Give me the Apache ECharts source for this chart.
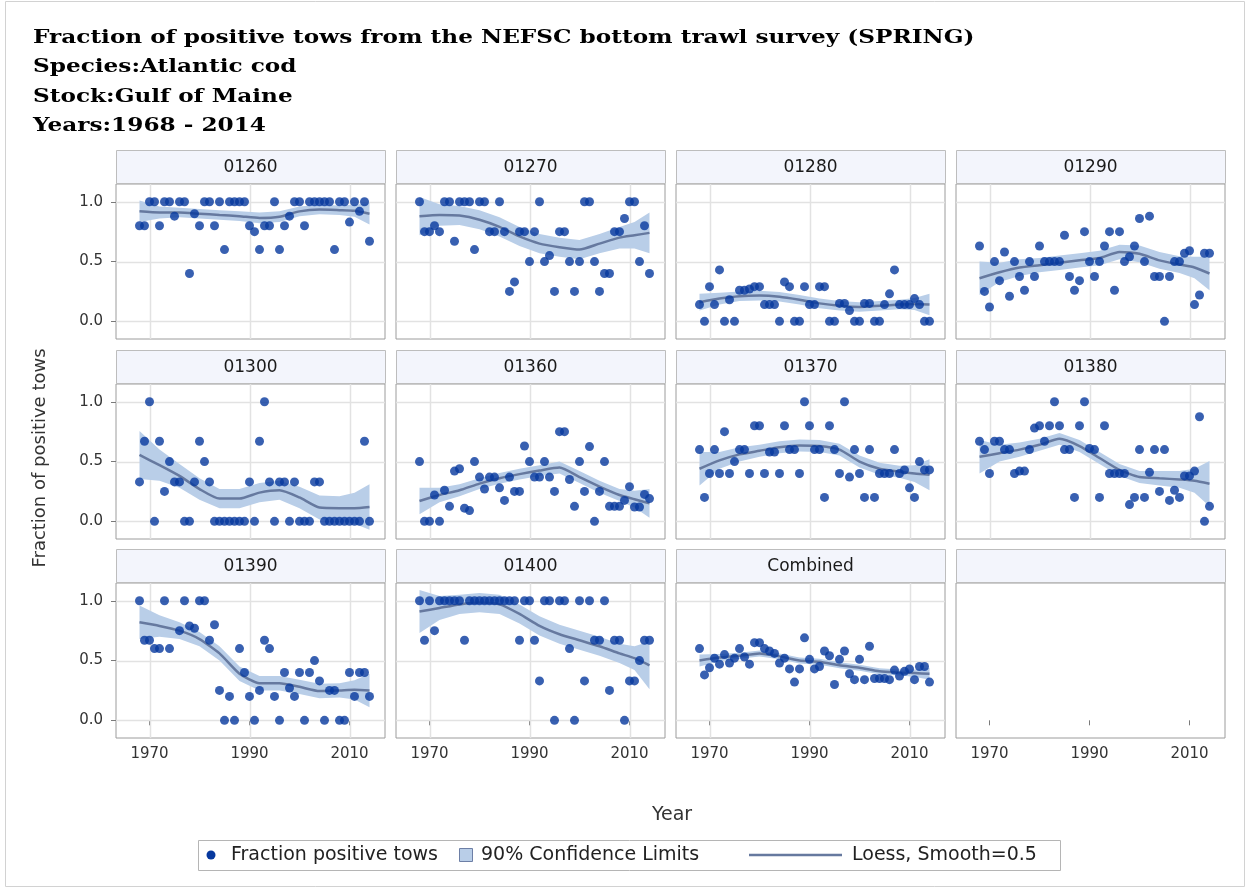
<!DOCTYPE html>
<html>
<head>
<meta charset="utf-8">
<title>Fraction of positive tows - Atlantic cod, Gulf of Maine</title>
<script src="https://cdn.jsdelivr.net/npm/echarts@6/dist/echarts.min.js"></script>
<style>
  html, body { margin: 0; padding: 0; background: #ffffff; }
  #chart { width: 1250px; height: 890px; }
</style>
</head>
<body>
<div id="chart"></div>
<script>
// ---- data -------------------------------------------------------------
const years = [1968, 1969, 1970, 1971, 1972, 1973, 1974, 1975, 1976, 1977,
               1978, 1979, 1980, 1981, 1982, 1983, 1984, 1985, 1986, 1987,
               1988, 1989, 1990, 1991, 1992, 1993, 1994, 1995, 1996, 1997,
               1998, 1999, 2000, 2001, 2002, 2003, 2004, 2005, 2006, 2007,
               2008, 2009, 2010, 2011, 2012, 2013, 2014];

const panelNames = ['01260', '01270', '01280', '01290', '01300', '01360',
                    '01370', '01380', '01390', '01400', 'Combined'];

// fraction of positive tows per year, one row per stratum (null = no survey)
const fractionValues = [
  [0.8, 0.8, 1, 1, 0.8, 1, 1, 0.88, 1, 1, 0.4, 0.9, 0.8, 1, 1, 0.8, 1, 0.6, 1, 1,
   1, 1, 0.8, 0.75, 0.6, 0.8, 0.8, 1, 0.6, 0.8, 0.88, 1, 1, 0.8, 1, 1, 1, 1, 1, 0.6,
   1, 1, 0.83, 1, 0.92, 1, 0.67],
  [1, 0.75, 0.75, 0.8, 0.75, 1, 1, 0.67, 1, 1, 1, 0.6, 1, 1, 0.75, 0.75, 1, 0.75, 0.25, 0.33,
   0.75, 0.75, 0.5, 0.75, 1, 0.5, 0.55, 0.25, 0.75, 0.75, 0.5, 0.25, 0.5, 1, 1, 0.5, 0.25, 0.4, 0.4, 0.75,
   0.75, 0.86, 1, 1, 0.5, 0.8, 0.4],
  [0.14, 0, 0.29, 0.14, 0.43, 0, 0.18, 0, 0.26, 0.26, 0.27, 0.29, 0.29, 0.14, 0.14, 0.14, 0, 0.33, 0.29, 0,
   0, 0.29, 0.14, 0.14, 0.29, 0.29, 0, 0, 0.15, 0.15, 0.09, 0, 0, 0.15, 0.15, 0, 0, 0.14, 0.23, 0.43,
   0.14, 0.14, 0.14, 0.19, 0.14, 0, 0],
  [0.63, 0.25, 0.12, 0.5, 0.34, 0.58, 0.21, 0.5, 0.375, 0.26, 0.5, 0.375, 0.63, 0.5, 0.5, 0.5, 0.5, 0.72, 0.375, 0.26,
   0.34, 0.75, 0.5, 0.375, 0.5, 0.63, 0.75, 0.26, 0.75, 0.5, 0.54, 0.63, 0.86, 0.5, 0.88, 0.375, 0.375, 0, 0.375, 0.5,
   0.5, 0.57, 0.59, 0.14, 0.22, 0.57, 0.57],
  [0.33, 0.67, 1, 0, 0.67, 0.25, 0.5, 0.33, 0.33, 0, 0, 0.33, 0.67, 0.5, 0.33, 0, 0, 0, 0, 0,
   0, 0, 0.33, 0, 0.67, 1, 0.33, 0, 0.33, 0.33, 0, 0.33, 0, 0, 0, 0.33, 0.33, 0, 0, 0,
   0, 0, 0, 0, 0, 0.67, 0],
  [0.5, 0, 0, 0.22, 0, 0.26, 0.125, 0.42, 0.44, 0.11, 0.09, 0.5, 0.37, 0.27, 0.37, 0.37, 0.28, 0.175, 0.37, 0.25,
   0.25, 0.63, 0.5, 0.37, 0.37, 0.5, 0.37, 0.25, 0.75, 0.75, 0.35, 0.125, 0.5, 0.25, 0.625, 0, 0.25, 0.5, 0.125, 0.125,
   0.125, 0.175, 0.29, 0.12, 0.12, 0.225, 0.19],
  [0.6, 0.2, 0.4, 0.6, 0.4, 0.75, 0.4, 0.5, 0.6, 0.6, 0.4, 0.8, 0.8, 0.4, 0.58, 0.58, 0.4, 0.8, 0.6, 0.6,
   0.4, 1, 0.8, 0.6, 0.6, 0.2, 0.8, 0.6, 0.4, 1, 0.37, 0.6, 0.4, 0.2, 0.6, 0.2, 0.4, 0.4, 0.4, 0.6,
   0.4, 0.43, 0.28, 0.2, 0.5, 0.43, 0.43],
  [0.67, 0.6, 0.4, 0.67, 0.67, 0.6, 0.6, 0.4, 0.42, 0.42, 0.6, 0.78, 0.8, 0.67, 0.8, 1, 0.8, 0.6, 0.6, 0.2,
   0.8, 1, 0.61, 0.6, 0.2, 0.8, 0.4, 0.4, 0.4, 0.4, 0.14, 0.2, 0.6, 0.2, 0.41, 0.6, 0.25, 0.6, 0.175, 0.26,
   0.2, 0.38, 0.38, 0.42, 0.875, 0, 0.125],
  [1, 0.67, 0.67, 0.6, 0.6, 1, 0.6, null, 0.75, 1, 0.79, 0.77, 1, 1, 0.67, 0.8, 0.25, 0, 0.2, 0,
   0.6, 0.4, 0.2, 0, 0.25, 0.67, 0.6, 0.2, 0, 0.4, 0.27, 0.2, 0.4, 0, 0.4, 0.5, 0.33, 0, 0.25, 0.25,
   0, 0, 0.4, 0.2, 0.4, 0.4, 0.2],
  [1, 0.67, 1, 0.75, 1, 1, 1, 1, 1, 0.67, 1, 1, 1, 1, 1, 1, 1, 1, 1, 1,
   0.67, 1, 1, 0.67, 0.33, 1, 1, 0, 1, 1, 0.6, 0, 1, 0.33, 1, 0.67, 0.67, 1, 0.25, 0.67,
   0.67, 0, 0.33, 0.33, 0.5, 0.67, 0.67],
  [0.6, 0.38, 0.44, 0.52, 0.47, 0.55, 0.48, 0.52, 0.6, 0.53, 0.47, 0.65, 0.65, 0.6, 0.58, 0.56, 0.48, 0.52, 0.43, 0.32,
   0.43, 0.69, 0.51, 0.43, 0.45, 0.58, 0.54, 0.3, 0.51, 0.58, 0.39, 0.34, 0.51, 0.34, 0.62, 0.35, 0.35, 0.35, 0.34, 0.42,
   0.37, 0.41, 0.43, 0.34, 0.45, 0.45, 0.32]
];

// loess fit (smooth = 0.5) with its 90% confidence limits
const loessYears = [1968, 1972, 1976, 1980, 1984, 1988, 1992, 1996, 2000, 2004, 2008, 2011, 2014];

const loessFit = [
  [0.92, 0.91, 0.91, 0.90, 0.89, 0.88, 0.865, 0.875, 0.92, 0.935, 0.93, 0.925, 0.90],
  [0.88, 0.89, 0.885, 0.85, 0.79, 0.71, 0.65, 0.62, 0.60, 0.65, 0.70, 0.72, 0.74],
  [0.16, 0.19, 0.21, 0.215, 0.205, 0.18, 0.15, 0.13, 0.12, 0.13, 0.14, 0.145, 0.14],
  [0.36, 0.41, 0.45, 0.47, 0.49, 0.51, 0.53, 0.58, 0.565, 0.51, 0.475, 0.45, 0.40],
  [0.555, 0.47, 0.38, 0.27, 0.19, 0.19, 0.24, 0.26, 0.20, 0.115, 0.11, 0.11, 0.12],
  [0.17, 0.22, 0.26, 0.315, 0.36, 0.395, 0.425, 0.45, 0.37, 0.29, 0.22, 0.185, 0.15],
  [0.44, 0.51, 0.56, 0.59, 0.62, 0.635, 0.63, 0.60, 0.50, 0.44, 0.415, 0.40, 0.39],
  [0.54, 0.57, 0.60, 0.64, 0.69, 0.63, 0.53, 0.43, 0.37, 0.36, 0.35, 0.34, 0.315],
  [0.82, 0.79, 0.75, 0.68, 0.56, 0.39, 0.31, 0.31, 0.28, 0.245, 0.25, 0.255, 0.25],
  [0.91, 0.94, 0.97, 0.985, 0.97, 0.89, 0.79, 0.72, 0.67, 0.62, 0.56, 0.52, 0.46],
  [0.50, 0.525, 0.54, 0.56, 0.535, 0.50, 0.49, 0.46, 0.44, 0.41, 0.40, 0.395, 0.39]
];

const bandLower = [
  [0.83, 0.86, 0.87, 0.86, 0.85, 0.84, 0.82, 0.83, 0.88, 0.895, 0.89, 0.875, 0.81],
  [0.72, 0.80, 0.805, 0.77, 0.71, 0.63, 0.57, 0.54, 0.52, 0.57, 0.61, 0.61, 0.57],
  [0.09, 0.14, 0.17, 0.175, 0.165, 0.14, 0.11, 0.09, 0.08, 0.09, 0.10, 0.095, 0.05],
  [0.22, 0.33, 0.38, 0.41, 0.43, 0.45, 0.47, 0.52, 0.495, 0.44, 0.405, 0.36, 0.26],
  [0.355, 0.34, 0.28, 0.18, 0.11, 0.11, 0.16, 0.18, 0.11, 0.015, 0.01, -0.02, -0.07],
  [0.06, 0.16, 0.21, 0.27, 0.315, 0.35, 0.38, 0.40, 0.32, 0.24, 0.17, 0.115, 0.03],
  [0.30, 0.44, 0.50, 0.54, 0.57, 0.585, 0.58, 0.55, 0.45, 0.39, 0.365, 0.33, 0.26],
  [0.40, 0.50, 0.54, 0.59, 0.64, 0.58, 0.48, 0.38, 0.32, 0.30, 0.28, 0.24, 0.125],
  [0.68, 0.70, 0.68, 0.62, 0.50, 0.33, 0.25, 0.25, 0.22, 0.185, 0.19, 0.175, 0.11],
  [0.73, 0.84, 0.89, 0.905, 0.89, 0.81, 0.71, 0.64, 0.59, 0.54, 0.48, 0.42, 0.26],
  [0.45, 0.495, 0.515, 0.535, 0.51, 0.475, 0.465, 0.435, 0.415, 0.385, 0.375, 0.365, 0.34]
];

const bandUpper = [
  [1.01, 0.96, 0.95, 0.94, 0.93, 0.92, 0.91, 0.92, 0.96, 0.975, 0.97, 0.975, 0.99],
  [1.04, 0.98, 0.965, 0.93, 0.87, 0.79, 0.73, 0.70, 0.68, 0.73, 0.79, 0.83, 0.91],
  [0.23, 0.24, 0.25, 0.255, 0.245, 0.22, 0.19, 0.17, 0.16, 0.17, 0.18, 0.195, 0.23],
  [0.50, 0.49, 0.52, 0.53, 0.55, 0.57, 0.59, 0.64, 0.635, 0.58, 0.545, 0.54, 0.54],
  [0.755, 0.60, 0.48, 0.36, 0.27, 0.27, 0.32, 0.34, 0.29, 0.215, 0.21, 0.24, 0.31],
  [0.28, 0.28, 0.31, 0.36, 0.405, 0.44, 0.47, 0.50, 0.42, 0.34, 0.27, 0.255, 0.27],
  [0.58, 0.58, 0.62, 0.64, 0.67, 0.685, 0.68, 0.65, 0.55, 0.49, 0.465, 0.47, 0.52],
  [0.68, 0.64, 0.66, 0.69, 0.74, 0.68, 0.58, 0.48, 0.42, 0.42, 0.42, 0.44, 0.505],
  [0.96, 0.88, 0.82, 0.74, 0.62, 0.45, 0.37, 0.37, 0.34, 0.305, 0.31, 0.335, 0.39],
  [1.09, 1.04, 1.05, 1.065, 1.05, 0.97, 0.87, 0.80, 0.75, 0.70, 0.64, 0.62, 0.66],
  [0.55, 0.555, 0.565, 0.585, 0.56, 0.525, 0.515, 0.485, 0.465, 0.435, 0.425, 0.425, 0.44]
];

const yearTicks = [1970, 1990, 2010];
const fractionTicks = [0, 0.5, 1];

const titleLines = [
  'Fraction of positive tows from the NEFSC bottom trawl survey (SPRING)',
  'Species:Atlantic cod',
  'Stock:Gulf of Maine',
  'Years:1968 - 2014'
];

// ---- styling / layout ---------------------------------------------------
const SANS = 'DejaVu Sans';
const SERIF = 'DejaVu Serif';
const POINT_COLOR = '#06389e';
const LINE_COLOR = '#66799f';
const BAND_COLOR = '#b9cee8';
const FRAME_COLOR = '#9c9c9c';
const GRIDLINE_COLOR = '#e2e2e2';

const COL_LEFT = [116, 396, 676, 956];
const ROW_TOP = [184, 384, 583];
const PANEL_W = 269;
const PANEL_H = 155;
const STRIP_H = 33;
const X_MIN = 1963.3, X_MAX = 2017.1;
const Y_MIN = -0.148, Y_MAX = 1.149;

const grids = [], xAxes = [], yAxes = [], series = [], graphics = [];

// light reference lines at the labelled ticks of one panel
function gridLineRenderer(params, api) {
  if (params.dataIndex !== 0) return;
  const cs = params.coordSys;
  const children = [];
  yearTicks.forEach(v => {
    const x = Math.round(api.coord([v, 0])[0]) + 0.5;
    children.push({ type: 'line', shape: { x1: x, y1: cs.y, x2: x, y2: cs.y + cs.height },
                    style: { stroke: GRIDLINE_COLOR, lineWidth: 1.5 } });
  });
  fractionTicks.forEach(v => {
    const y = Math.round(api.coord([X_MIN, v])[1]) + 0.5;
    children.push({ type: 'line', shape: { x1: cs.x, y1: y, x2: cs.x + cs.width, y2: y },
                    style: { stroke: GRIDLINE_COLOR, lineWidth: 1.5 } });
  });
  return { type: 'group', children: children };
}

for (let cell = 0; cell < 12; cell++) {
  const col = cell % 4;
  const row = Math.floor(cell / 4);
  const left = COL_LEFT[col];
  const top = ROW_TOP[row];
  const hasPanel = cell < panelNames.length;
  const bottomRow = row === 2;
  const leftCol = col === 0;

  grids.push({
    left: left, top: top, width: PANEL_W, height: PANEL_H,
    show: true, borderColor: FRAME_COLOR, borderWidth: 1, backgroundColor: 'transparent'
  });

  xAxes.push({
    type: 'value', gridIndex: cell, min: X_MIN, max: X_MAX,
    axisLine: { show: false },
    axisTick: { show: bottomRow, customValues: yearTicks, length: 5, lineStyle: { color: '#7a7a7a' } },
    axisLabel: {
      show: bottomRow, customValues: yearTicks, fontFamily: SANS, fontSize: 15, color: '#333', margin: 9,
      formatter: v => String(Math.round(v))
    },
    splitLine: { show: false }
  });

  yAxes.push({
    type: 'value', gridIndex: cell, min: Y_MIN, max: Y_MAX,
    axisLine: { show: false },
    axisTick: { show: leftCol, customValues: fractionTicks, length: 5, lineStyle: { color: '#7a7a7a' } },
    axisLabel: {
      show: leftCol, customValues: fractionTicks, fontFamily: SANS, fontSize: 15, color: '#333', margin: 13,
      formatter: v => v.toFixed(1)
    },
    splitLine: { show: false }
  });

  // strip header above each cell
  graphics.push({
    type: 'rect', silent: true,
    shape: { x: left + 0.5, y: top - STRIP_H - 0.5, width: PANEL_W, height: STRIP_H },
    style: { fill: '#f3f5fc', stroke: '#bdbdbd', lineWidth: 1 }
  });
  if (hasPanel) {
    graphics.push({
      type: 'text', silent: true,
      x: left + PANEL_W / 2, y: top - STRIP_H / 2,
      style: { text: panelNames[cell], fontFamily: SANS, fontSize: 17, fill: '#1a1a1a',
               textAlign: 'center', textVerticalAlign: 'middle' }
    });
  }

  if (!hasPanel) continue;
  const i = cell;

  // grid lines
  series.push({
    type: 'custom', name: 'grid', xAxisIndex: i, yAxisIndex: i, silent: true, z: 1, clip: true,
    data: [[X_MIN, Y_MIN]],
    renderItem: gridLineRenderer
  });

  // 90% confidence band
  series.push({
    type: 'custom', name: '90% Confidence Limits',
    xAxisIndex: i, yAxisIndex: i, clip: true, silent: true, z: 2,
    encode: { x: 0, y: [1, 2] },
    data: loessYears.map((yr, k) => [yr, bandLower[i][k], bandUpper[i][k]]),
    renderItem: function (params, api) {
      if (params.dataIndex !== 0) return;
      const upper = loessYears.map((yr, k) => api.coord([yr, bandUpper[i][k]]));
      const lower = loessYears.map((yr, k) => api.coord([yr, bandLower[i][k]])).reverse();
      return {
        type: 'polygon',
        shape: { points: upper.concat(lower) },
        style: { fill: BAND_COLOR }
      };
    }
  });

  // loess curve
  series.push({
    type: 'line', name: 'Loess, Smooth=0.5',
    xAxisIndex: i, yAxisIndex: i, z: 3, silent: true,
    showSymbol: false, smooth: 0.2,
    data: loessYears.map((yr, k) => [yr, loessFit[i][k]]),
    lineStyle: { color: LINE_COLOR, width: 2.5 }
  });

  // observed fractions
  series.push({
    type: 'scatter', name: 'Fraction positive tows',
    xAxisIndex: i, yAxisIndex: i, z: 4, silent: true,
    symbol: 'circle', symbolSize: 9,
    data: years.map((yr, k) => [yr, fractionValues[i][k]]).filter(d => d[1] !== null),
    itemStyle: { color: POINT_COLOR }
  });
}

// title block
titleLines.forEach((line, k) => {
  graphics.push({
    type: 'text', silent: true,
    x: 33, y: 38 + k * 29.3, scaleX: 1.22, originX: 0, originY: 0,
    style: { text: line, fontFamily: SERIF, fontWeight: 'bold', fontSize: 19, fill: '#000',
             textAlign: 'left', textVerticalAlign: 'middle' }
  });
});

// axis titles
graphics.push({
  type: 'text', silent: true,
  x: 40, y: 458, rotation: Math.PI / 2,
  style: { text: 'Fraction of positive tows', fontFamily: SANS, fontSize: 18, fill: '#333',
           textAlign: 'center', textVerticalAlign: 'middle' }
});
graphics.push({
  type: 'text', silent: true,
  x: 672, y: 815,
  style: { text: 'Year', fontFamily: SANS, fontSize: 19, fill: '#333',
           textAlign: 'center', textVerticalAlign: 'middle' }
});

// legend
const LEG_Y = 855;
const LEG_FONT = 19;
graphics.push({
  type: 'rect', silent: true,
  shape: { x: 198.5, y: 840.5, width: 862, height: 30 },
  style: { fill: '#ffffff', stroke: '#b5b5b5', lineWidth: 1 }
});
graphics.push({
  type: 'circle', silent: true,
  shape: { cx: 211, cy: LEG_Y, r: 4.5 },
  style: { fill: POINT_COLOR }
});
graphics.push({
  type: 'text', silent: true, x: 231, y: LEG_Y,
  style: { text: 'Fraction positive tows', fontFamily: SANS, fontSize: LEG_FONT, fill: '#222',
           textAlign: 'left', textVerticalAlign: 'middle' }
});
graphics.push({
  type: 'rect', silent: true,
  shape: { x: 459.5, y: LEG_Y - 6.5, width: 13, height: 13 },
  style: { fill: BAND_COLOR, stroke: '#6d7fa6', lineWidth: 1 }
});
graphics.push({
  type: 'text', silent: true, x: 481, y: LEG_Y,
  style: { text: '90% Confidence Limits', fontFamily: SANS, fontSize: LEG_FONT, fill: '#222',
           textAlign: 'left', textVerticalAlign: 'middle' }
});
graphics.push({
  type: 'line', silent: true,
  shape: { x1: 749, y1: LEG_Y, x2: 842, y2: LEG_Y },
  style: { stroke: LINE_COLOR, lineWidth: 2.5 }
});
graphics.push({
  type: 'text', silent: true, x: 852, y: LEG_Y,
  style: { text: 'Loess, Smooth=0.5', fontFamily: SANS, fontSize: LEG_FONT, fill: '#222',
           textAlign: 'left', textVerticalAlign: 'middle' }
});

// outer frame
graphics.push({
  type: 'rect', silent: true, z: -1,
  shape: { x: 5.5, y: 1.5, width: 1239, height: 885 },
  style: { fill: 'none', stroke: '#d2d2d2', lineWidth: 1 }
});

const chart = echarts.init(document.getElementById('chart'), null, { renderer: 'canvas' });
chart.setOption({
  animation: false,
  backgroundColor: '#ffffff',
  grid: grids,
  xAxis: xAxes,
  yAxis: yAxes,
  series: series,
  graphic: { elements: graphics }
});
</script>
</body>
</html>
